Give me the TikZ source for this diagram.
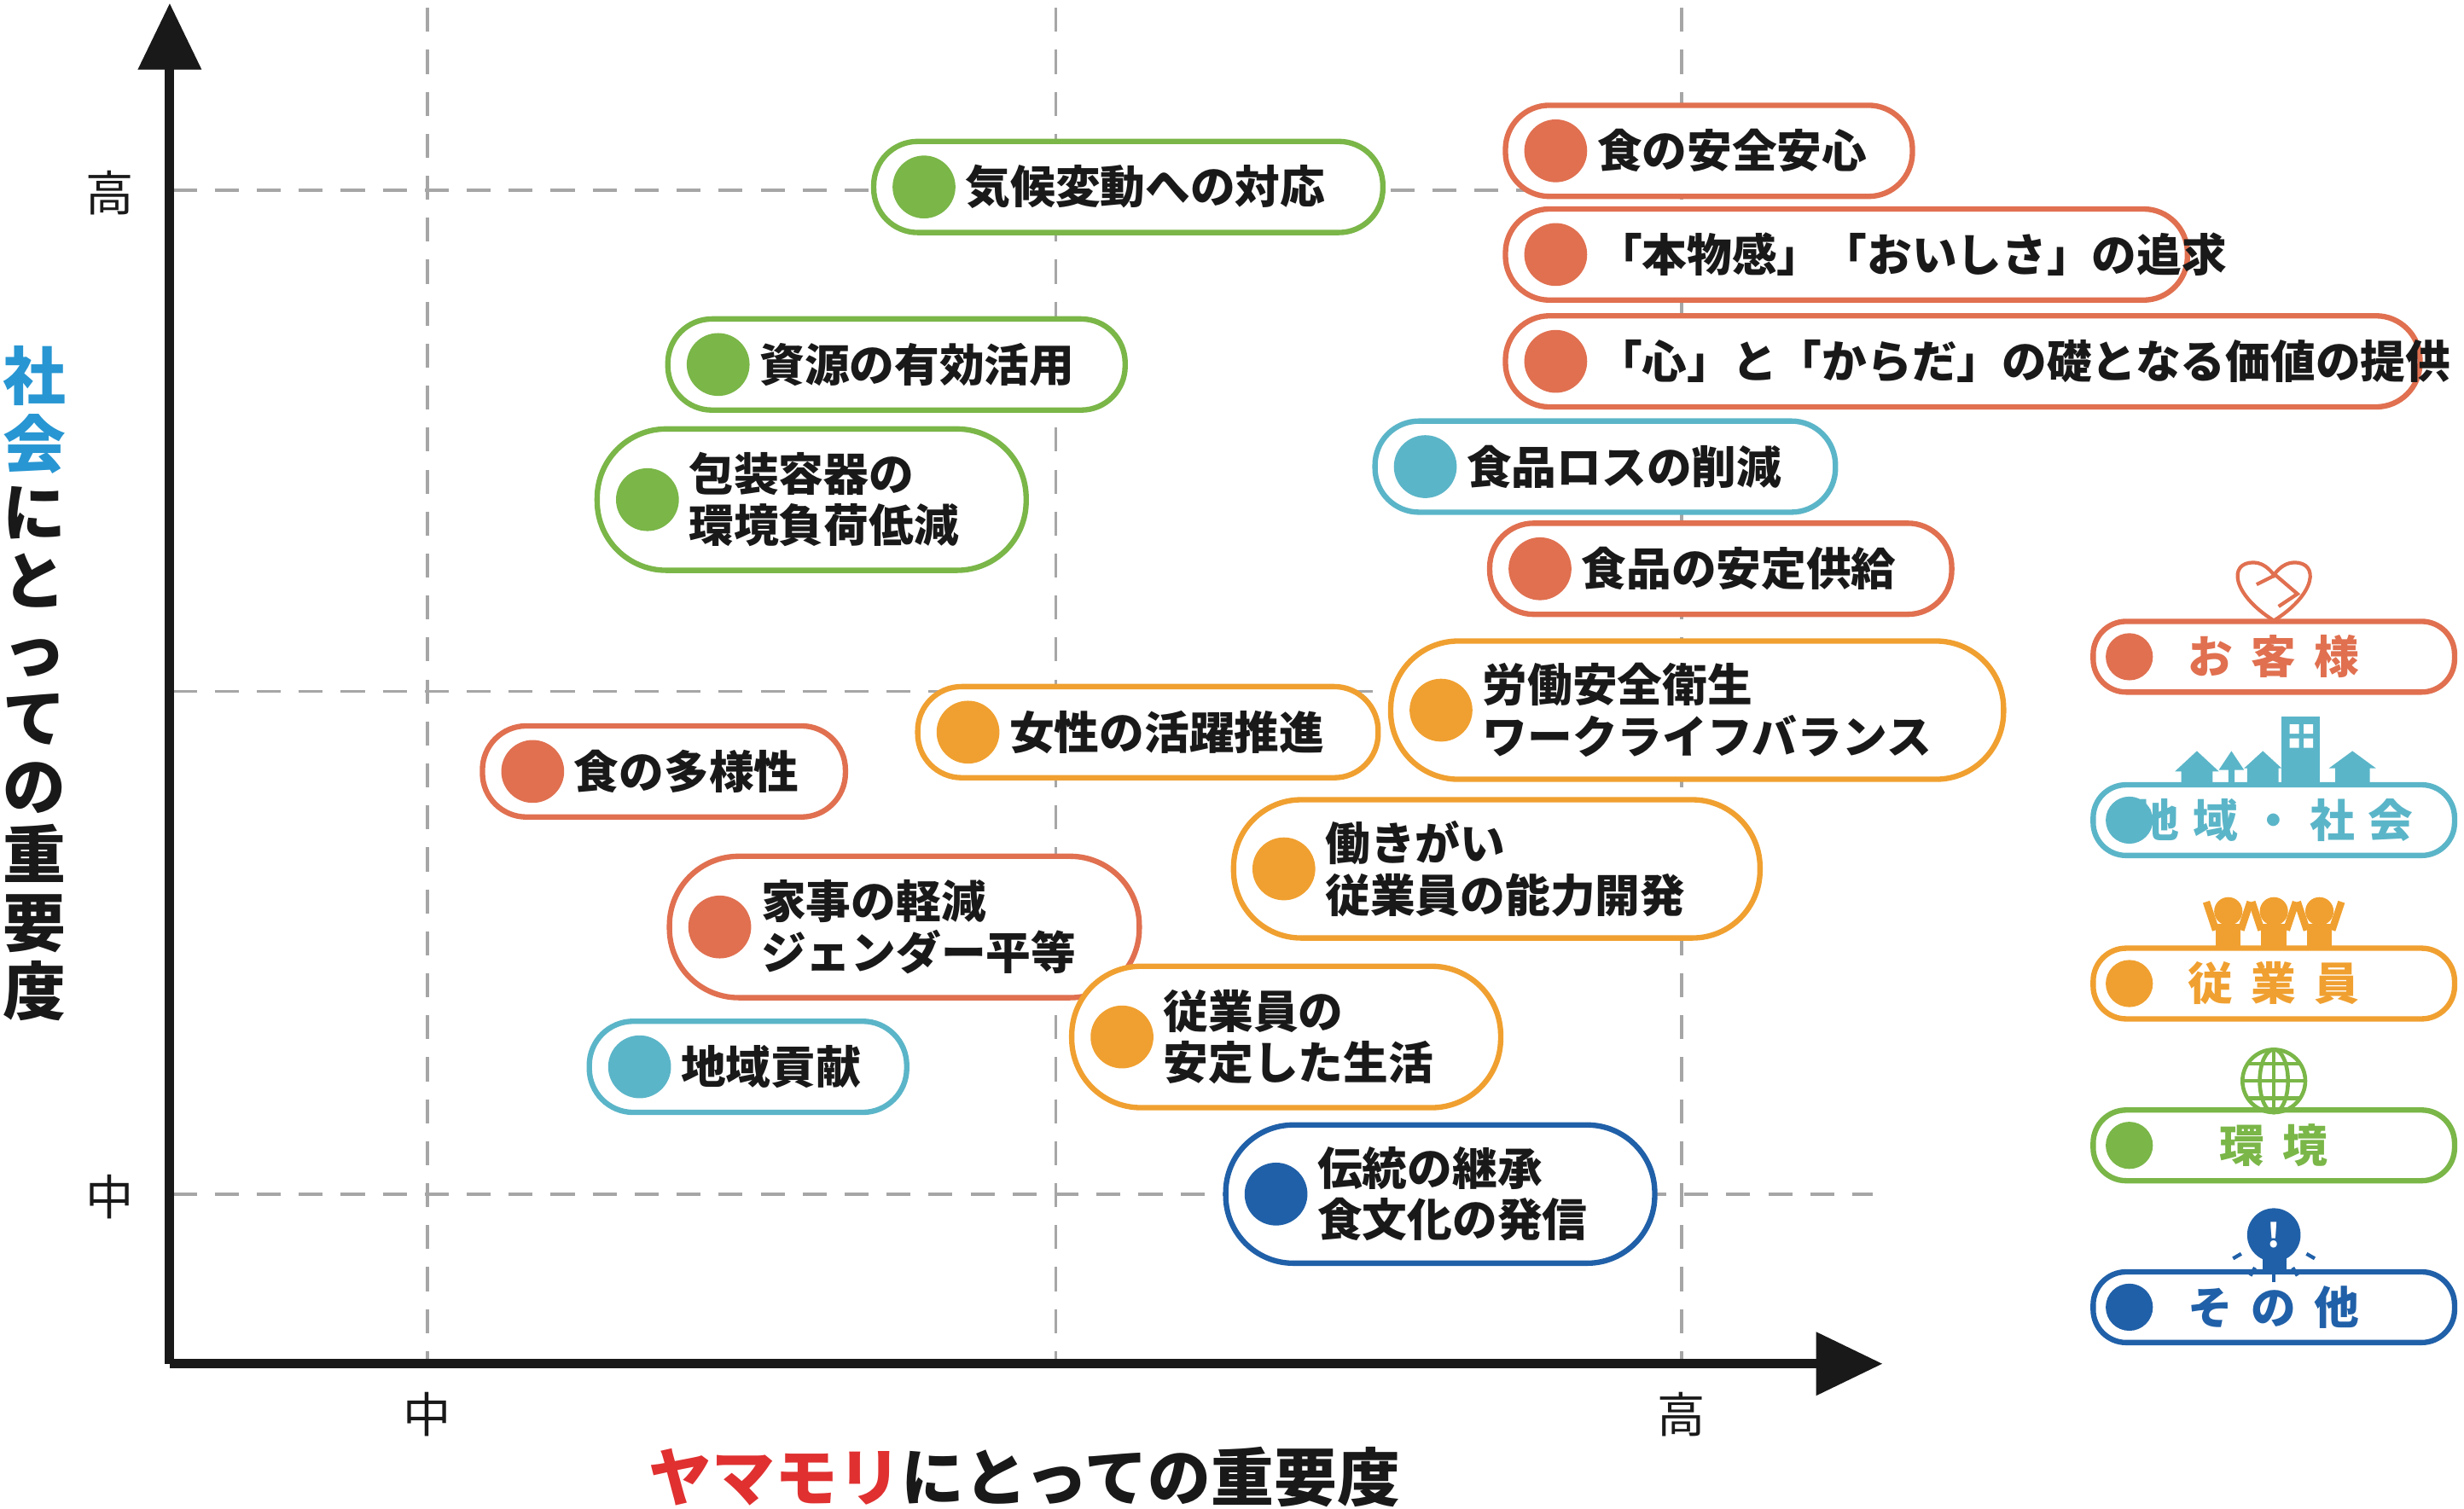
\documentclass[tikz,border=0pt]{standalone}
\usepackage{fontspec}
\setmainfont{Noto Sans CJK JP}
\usepackage{tikz}
\usetikzlibrary{arrows.meta, positioning, calc}
\definecolor{CustRed}{RGB}{224, 112, 80}
\definecolor{CommBlue}{RGB}{91, 181, 200}
\definecolor{StaffOrange}{RGB}{240, 160, 48}
\definecolor{EnvGreen}{RGB}{122, 182, 72}
\definecolor{OtherBlue}{RGB}{32, 96, 168}
\definecolor{TitleRed}{RGB}{224, 48, 48}
\definecolor{TitleBlue}{RGB}{40, 150, 210}
\def\u{0.01842cm}
% pill: name, colour, left, right, centre y, height, text
\newcommand{\pill}[7]{%
  \node[pillbox, draw=#2, minimum width={(#4-#3)*\u}, minimum height={#6*\u},
        rounded corners={(#6/2-1)*\u}] (#1) at ({(#3+#4)/2}, #5) {};
  \node[dot, fill=#2] (#1-dot) at ({#3+32}, #5) {};
  \node[itemtext, anchor=west] (#1-text) at ({#3+58}, #5) {#7};
}
\newcommand{\legend}[4]{%
  \node[pillbox, draw=#2, minimum width={230*\u}, minimum height={45*\u},
        rounded corners={21*\u}] (#1) at (1447, #3) {};
  \node[dot, fill=#2, minimum size={30*\u}] (#1-dot) at (1355, #3) {};
  \node[legtext, text=#2] (#1-text) at (1447, #3) {#4};
}

\begin{document}
\begin{tikzpicture}[
        x=0.01842cm, y=-0.01842cm,
        pillbox/.style={rectangle, line width=1.8pt, fill=white, inner sep=0pt},
        dot/.style={circle, minimum size={40*\u}, inner sep=0pt},
        itemtext/.style={font=\fontsize{15}{17.2}\selectfont\bfseries, align=left, inner sep=0pt, text=black!90},
        legtext/.style={font=\fontsize{15}{17}\selectfont\bfseries, inner sep=0pt},
        ticklabel/.style={font=\fontsize{16}{18}\selectfont, text=black!90},
        grid/.style={gray!70, line width=1pt, dash pattern=on 8pt off 6pt},
        axis/.style={line width=3.1pt, black!90, -{Triangle[length=0.78cm, width=0.72cm]}}
    ]
        \useasboundingbox (0,0) rectangle (1568,960);

        % Grid
        \foreach \gx in {272, 672, 1070} {
            \draw[grid] (\gx, 5) -- (\gx, 866);
        }
        \foreach \gy in {121, 440, 760} {
            \draw[grid] (110, \gy) -- (1192, \gy);
        }

        % Axes
        \coordinate (origin) at (108, 868);
        \coordinate (ytop) at (108, 2);
        \coordinate (xend) at (1198, 868);
        \draw[axis] (origin) -- (ytop);
        \draw[axis] (origin) -- (xend);

        % Tick labels
        \node[ticklabel] (yhigh) at (70, 123) {高};
        \node[ticklabel] (ymid) at (70, 762) {中};
        \node[ticklabel] (xmid) at (272, 900) {中};
        \node[ticklabel] (xhigh) at (1070, 900) {高};

        % Axis titles
        \node[font=\fontsize{21}{23}\selectfont\bfseries, text=black!90] (xtitle) at (652, 940)
            {\textcolor{TitleRed}{ヤマモリ}にとっての重要度};
        \node[font=\fontsize{21}{22.8}\selectfont\bfseries, align=center, text=black!90, inner sep=0pt] (ytitle) at (22, 435)
            {\textcolor{TitleBlue}{社}\\\textcolor{TitleBlue}{会}\\に\\と\\っ\\て\\の\\重\\要\\度};

        % Items
        \pill{climate}{EnvGreen}{556}{880}{119}{58}{気候変動への対応}
        \pill{safety}{CustRed}{958}{1217}{96}{58}{食の安全安心}
        \pill{taste}{CustRed}{958}{1392}{162}{58}{「本物感」「おいしさ」の追求}
        \pill{value}{CustRed}{958}{1540}{230}{58}{「心」と「からだ」の礎となる価値の提供}
        \pill{resource}{EnvGreen}{425}{716}{232}{58}{資源の有効活用}
        \pill{package}{EnvGreen}{380}{653}{318}{90}{包装容器の\\環境負荷低減}
        \pill{foodloss}{CommBlue}{875}{1168}{297}{58}{食品ロスの削減}
        \pill{supply}{CustRed}{948}{1242}{362}{58}{食品の安定供給}
        \pill{worklife}{StaffOrange}{885}{1275}{452}{88}{労働安全衛生\\ワークライフバランス}
        \pill{women}{StaffOrange}{584}{877}{466}{58}{女性の活躍推進}
        \pill{diversity}{CustRed}{307}{538}{491}{58}{食の多様性}
        \pill{motivation}{StaffOrange}{785}{1120}{553}{88}{働きがい\\従業員の能力開発}
        \pill{gender}{CustRed}{426}{725}{590}{90}{家事の軽減\\ジェンダー平等}
        \pill{living}{StaffOrange}{682}{955}{660}{90}{従業員の\\安定した生活}
        \pill{local}{CommBlue}{375}{577}{679}{58}{地域貢献}
        \pill{tradition}{OtherBlue}{780}{1053}{760}{88}{伝統の継承\\食文化の発信}

        % Legend
        \legend{customer}{CustRed}{418}{お\hspace{0.4em}客\hspace{0.4em}様}
        \legend{community}{CommBlue}{522}{地\hspace{0.3em}域\hspace{0.3em}・\hspace{0.3em}社\hspace{0.3em}会}
        \legend{staff}{StaffOrange}{626}{従\hspace{0.4em}業\hspace{0.4em}員}
        \legend{environment}{EnvGreen}{729}{環\hspace{0.4em}境}
        \legend{other}{OtherBlue}{832}{そ\hspace{0.4em}の\hspace{0.4em}他}

        % Legend icons
        \draw[CustRed, line width=1.2pt, fill=white] (1447, 395) .. controls (1420, 378) and (1418, 358) .. (1434, 358)
            .. controls (1442, 358) and (1447, 366) .. (1447, 366)
            .. controls (1447, 366) and (1452, 358) .. (1460, 358)
            .. controls (1476, 358) and (1474, 378) .. (1447, 395);
        \draw[CustRed, line width=1.2pt] (1436, 372) -- (1448, 366) -- (1462, 378) -- (1450, 386);
        \fill[CommBlue] (1452, 456) rectangle (1476, 500);
        \fill[white] (1457, 461) rectangle (1463, 467) (1466, 461) rectangle (1472, 467)
            (1457, 470) rectangle (1463, 476) (1466, 470) rectangle (1472, 476);
        \fill[CommBlue] (1384, 491) -- (1398, 478) -- (1412, 491) -- (1408, 491) -- (1408, 500) -- (1388, 500) -- (1388, 491) -- cycle;
        \fill[CommBlue] (1418, 500) -- (1418, 490) -- (1412, 490) -- (1420, 478) -- (1428, 490) -- (1422, 490) -- (1422, 500) -- cycle;
        \fill[CommBlue] (1428, 489) -- (1440, 478) -- (1452, 489) -- (1450, 489) -- (1450, 500) -- (1430, 500) -- (1430, 489) -- cycle;
        \fill[CommBlue] (1482, 489) -- (1497, 478) -- (1512, 489) -- (1508, 489) -- (1508, 500) -- (1486, 500) -- (1486, 489) -- cycle;
        \foreach \px in {1418, 1447, 1476} {
            \fill[StaffOrange] (\px, 580) circle (9);
            \fill[StaffOrange] (\px-8, 603) rectangle (\px+8, 588);
            \draw[StaffOrange, line width=2.4pt] (\px-8, 592) -- (\px-14, 574);
            \draw[StaffOrange, line width=2.4pt] (\px+8, 592) -- (\px+14, 574);
        }
        \draw[EnvGreen, line width=1.3pt] (1447, 688) circle (20);
        \draw[EnvGreen, line width=1.3pt] (1447, 668) -- (1447, 708) (1427, 688) -- (1467, 688)
            (1431, 677) -- (1463, 677) (1431, 699) -- (1463, 699);
        \draw[EnvGreen, line width=1.3pt] (1447, 688) ellipse (9 and 20);
        \fill[OtherBlue] (1447, 786) circle (17);
        \fill[OtherBlue] (1440, 808) rectangle (1455, 798);
        \node[text=white, font=\fontsize{11}{11}\selectfont\bfseries] (bang) at (1447, 786) {!};
        \foreach \ang in {150, 120, 90, 60, 30} {
            \draw[OtherBlue, line width=1.2pt] ($(1447, 786)+(\ang:24)$) -- ($(1447, 786)+(\ang:30)$);
        }
\end{tikzpicture}
\end{document}
